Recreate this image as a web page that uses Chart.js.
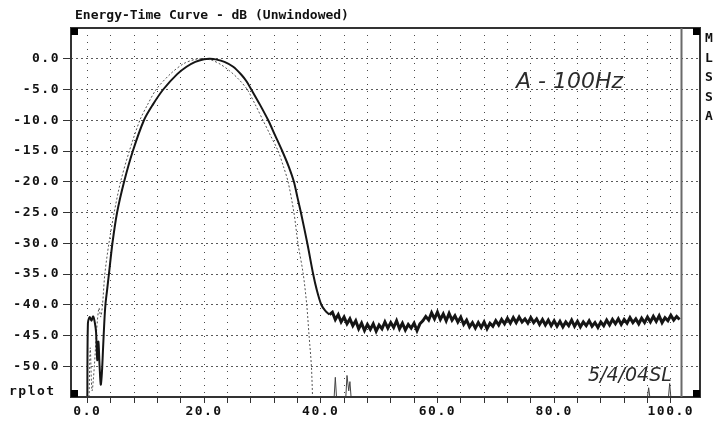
<!DOCTYPE html>
<html>
<head>
<meta charset="utf-8">
<title>Energy-Time Curve</title>
<script src="https://cdn.jsdelivr.net/npm/chart.js@4.4.0/dist/chart.umd.min.js"></script>
<style>
  html, body { margin: 0; padding: 0; background: #fff; }
  #wrap { width: 718px; height: 427px; }
</style>
</head>
<body>
<div id="wrap"><canvas id="etc" width="718" height="427"></canvas></div>
<script>
// Energy-time curve (solid), time in ms-ish units, level in dB
const etcX = [0.0, 0.1, 0.4, 0.7, 1.0, 1.3, 1.5, 1.7, 1.9, 2.1, 2.3, 2.5, 2.7, 2.9, 3.1, 3.4, 3.7, 4.3, 5.1, 6.3,
  7.8, 9.7, 11.2, 13.0, 15.4, 17.0, 18.5, 20.0, 21.0, 22.0, 23.5, 25.0, 26.4, 27.3, 28.1, 29.6, 31.0, 32.2, 33.4,
  34.5, 35.4, 36.0, 36.6, 37.7, 38.7, 39.3, 40.1, 40.8, 41.5];
const etcDb = [-55, -43, -42, -42.6, -41.9, -43, -44.5, -49, -46, -50, -53, -51, -47, -43, -40, -37.5, -35, -30, -25, -20,
  -15, -10, -7.5, -5, -2.5, -1.3, -0.5, -0.07, 0, -0.1, -0.5, -1.3, -2.6, -3.7, -5, -7.5, -10, -12.5, -15,
  -17.5, -20, -22.5, -25, -30, -35, -37.5, -40, -41, -41.6];

// noise floor after the main arrival, sampled every 0.5 from 42.0
const noiseStart = 42;
const noiseStep = 0.5;
const noiseDb = [
  -41.2, -42.4, -41.6, -42.8, -42.0, -43.1, -42.3,
  -43.4, -42.6, -43.9, -43.0, -44.2, -43.2, -44.0, -43.1, -44.3, -43.3,
  -43.9, -42.8, -43.8, -42.9, -43.7, -42.6, -43.9, -43.0, -44.1, -43.2,
  -43.8, -43.0, -44.2, -43.1, -42.6, -41.9,
  -42.5, -41.3, -42.3, -41.2, -42.4, -41.5, -42.6, -41.4, -42.5, -41.8,
  -42.8, -42.0, -43.2, -42.5, -43.6, -42.9,
  -43.8, -42.9, -43.7, -42.8, -43.9, -43.0, -43.5, -42.6,
  -43.3, -42.4, -43.1, -42.2, -43.0, -42.1, -42.9, -42.0, -42.8, -42.3,
  -43.0, -42.1, -42.9, -42.3, -43.2, -42.4, -43.3, -42.5, -43.4, -42.6,
  -43.5, -42.7, -43.6, -42.8, -43.4, -42.5, -43.5, -42.7, -43.6, -42.8,
  -43.4, -42.6, -43.5, -42.9, -43.7, -42.8, -43.4, -42.5, -43.3, -42.4,
  -43.1, -42.3, -43.2, -42.4, -43.0, -42.1, -42.9, -42.3, -43.1, -42.2,
  -42.9, -42.0, -42.8, -41.9, -42.7, -41.8, -42.9, -42.1, -42.6, -41.7, -42.5, -41.9, -42.4
];

// second (reference) curve, drawn dotted
const dotX = [0.3, 0.5, 0.8, 1.2, 1.6, 2.0, 2.3, 2.6, 3.0, 3.7, 4.6, 5.7, 7.2, 9.0, 10.3, 11.8, 14.2, 16.5, 18.5,
  20.0, 21.5, 22.8, 24.3, 25.9, 27.4, 28.8, 30.1, 31.4, 32.7, 33.6, 34.4, 35.4, 36.1, 37.0, 37.6, 38.0, 38.4, 38.6];
const dotDb = [-55, -47, -54, -50, -44, -40.5, -42, -40, -35, -30, -25, -20, -15, -10, -7.5, -5, -2.5, -0.8, -0.1,
  0, -0.3, -0.9, -1.9, -3.3, -5, -7.5, -10, -12.5, -15, -17.5, -20, -25, -30, -35, -40, -45, -50, -55];

// little leftovers of the dotted curve near the bottom
const spikeX = [42.3, 42.5, 42.7, 43.5, 44.3, 44.5, 44.8, 45.0, 45.2, 70, 96.0, 96.2, 96.4, 98, 99.6, 99.8, 100.0];
const spikeDb = [-55, -51.8, -55, null, -55, -51.5, -54, -52.5, -55, null, -55, -53.5, -55, null, -55, -52.8, -55];

const yTicks = [0, -5, -10, -15, -20, -25, -30, -35, -40, -45, -50];
const xTicks = [0, 4, 8, 12, 16, 20, 24, 28, 32, 36, 40, 44, 48, 52, 56, 60, 64, 68, 72, 76, 80, 84, 88, 92, 96, 100];
const xLabelEvery = 20;
const markerX = 101.8;

const titleText = 'Energy-Time Curve - dB (Unwindowed)';
const sideText = ['M', 'L', 'S', 'S', 'A'];
const noteText = 'A - 100Hz';
const dateText = '5/4/04SL';

const etcPoints = etcX.map((x, i) => ({ x: x, y: etcDb[i] }));
// noise starts where the curve ends so the two pieces join
const noisePoints = [etcPoints[etcPoints.length - 1]];
noiseDb.forEach((v, i) => noisePoints.push({ x: noiseStart + i * noiseStep, y: v }));
const dotPoints = dotX.map((x, i) => ({ x: x, y: dotDb[i] }));
const spikePoints = spikeX.map((x, i) => ({ x: x, y: spikeDb[i] }));

const monoFont = '"DejaVu Sans Mono", "Liberation Mono", monospace';

const paperPlugin = {
  id: 'paper',
  beforeDraw(chart) {
    const c = chart.ctx;
    c.save();
    c.fillStyle = '#fff';
    c.fillRect(0, 0, chart.width, chart.height);
    c.restore();
    c.letterSpacing = '1.5px'; // wide bitmap-like tick labels
  },
  afterDraw(chart) {
    const c = chart.ctx, a = chart.chartArea, xs = chart.scales.x;
    c.save();
    c.letterSpacing = '0px';

    // frame
    c.strokeStyle = '#333';
    c.lineWidth = 2;
    c.strokeRect(a.left, a.top, a.right - a.left, a.bottom - a.top);

    // cursor line near the right edge
    const mx = Math.round(xs.getPixelForValue(markerX)) + 0.5;
    c.strokeStyle = '#6a6a6a';
    c.lineWidth = 2;
    c.beginPath();
    c.moveTo(mx, a.top);
    c.lineTo(mx, a.bottom);
    c.stroke();

    // corner squares
    const s = 7;
    c.fillStyle = '#000';
    [[a.left, a.top], [a.right - s, a.top], [a.left, a.bottom - s], [a.right - s, a.bottom - s]]
      .forEach(p => c.fillRect(p[0], p[1], s, s));

    // title
    c.fillStyle = '#111';
    c.textAlign = 'left';
    c.textBaseline = 'alphabetic';
    c.font = 'bold 13px ' + monoFont;
    c.fillText(titleText, 75, 19);

    // rplot
    c.letterSpacing = '1.5px';
    c.font = 'bold 13px ' + monoFont;
    c.textBaseline = 'middle';
    c.fillText('rplot', 9, 392);

    // MLSSA down the right side
    c.letterSpacing = '0px';
    c.textAlign = 'center';
    c.font = 'bold 13px ' + monoFont;
    sideText.forEach((ch, i) => c.fillText(ch, 709, 39 + i * 19.5));

    // handwritten notes
    c.fillStyle = '#2b2b2b';
    c.textAlign = 'left';
    c.textBaseline = 'alphabetic';
    c.font = 'italic 22px "DejaVu Sans"';
    c.fillText(noteText, 516, 88);
    c.font = 'italic 19px "DejaVu Sans"';
    c.fillText(dateText, 588, 381);
    c.restore();
  }
};

new Chart(document.getElementById('etc'), {
  type: 'line',
  data: {
    datasets: [
      {
        label: 'ETC',
        data: etcPoints,
        borderColor: '#151515',
        borderWidth: 2,
        pointRadius: 0,
        tension: 0.3
      },
      {
        label: 'noise floor',
        data: noisePoints,
        borderColor: '#151515',
        borderWidth: 3,
        pointRadius: 0,
        tension: 0
      },
      {
        label: 'reference',
        data: dotPoints,
        borderColor: '#555',
        borderWidth: 1,
        borderDash: [2, 2],
        pointRadius: 0,
        tension: 0.3
      },
      {
        label: 'residue',
        data: spikePoints,
        borderColor: '#444',
        borderWidth: 1,
        pointRadius: 0,
        spanGaps: false,
        tension: 0
      }
    ]
  },
  options: {
    responsive: false,
    animation: false,
    layout: { padding: { top: 28, right: 18, left: 0, bottom: 0 } },
    plugins: {
      legend: { display: false },
      tooltip: { enabled: false }
    },
    scales: {
      x: {
        type: 'linear',
        min: -2.8,
        max: 105,
        afterBuildTicks: (scale) => { scale.ticks = xTicks.map(v => ({ value: v })); },
        afterFit: (scale) => { scale.height = 30; },
        ticks: {
          autoSkip: false,
          maxRotation: 0,
          padding: 1,
          color: '#111',
          font: { family: monoFont, size: 13, weight: 'bold' },
          callback: (v) => (v % xLabelEvery === 0 ? v.toFixed(1) : '')
        },
        grid: {
          color: '#4a4a4a',
          lineWidth: 1,
          tickLength: 6,
          tickColor: '#333',
          tickBorderDash: []
        },
        border: { display: false, dash: [1, 6] }
      },
      y: {
        type: 'linear',
        min: -55,
        max: 5,
        afterBuildTicks: (scale) => { scale.ticks = yTicks.map(v => ({ value: v })); },
        afterFit: (scale) => { scale.width = 71; },
        ticks: {
          padding: 3,
          color: '#111',
          font: { family: monoFont, size: 13, weight: 'bold' },
          callback: (v) => v.toFixed(1)
        },
        grid: {
          color: '#5a5a5a',
          lineWidth: 1,
          tickLength: 8,
          tickColor: '#333',
          tickBorderDash: []
        },
        border: { display: false, dash: [2, 3] }
      }
    }
  },
  plugins: [paperPlugin]
});
</script>
</body>
</html>
